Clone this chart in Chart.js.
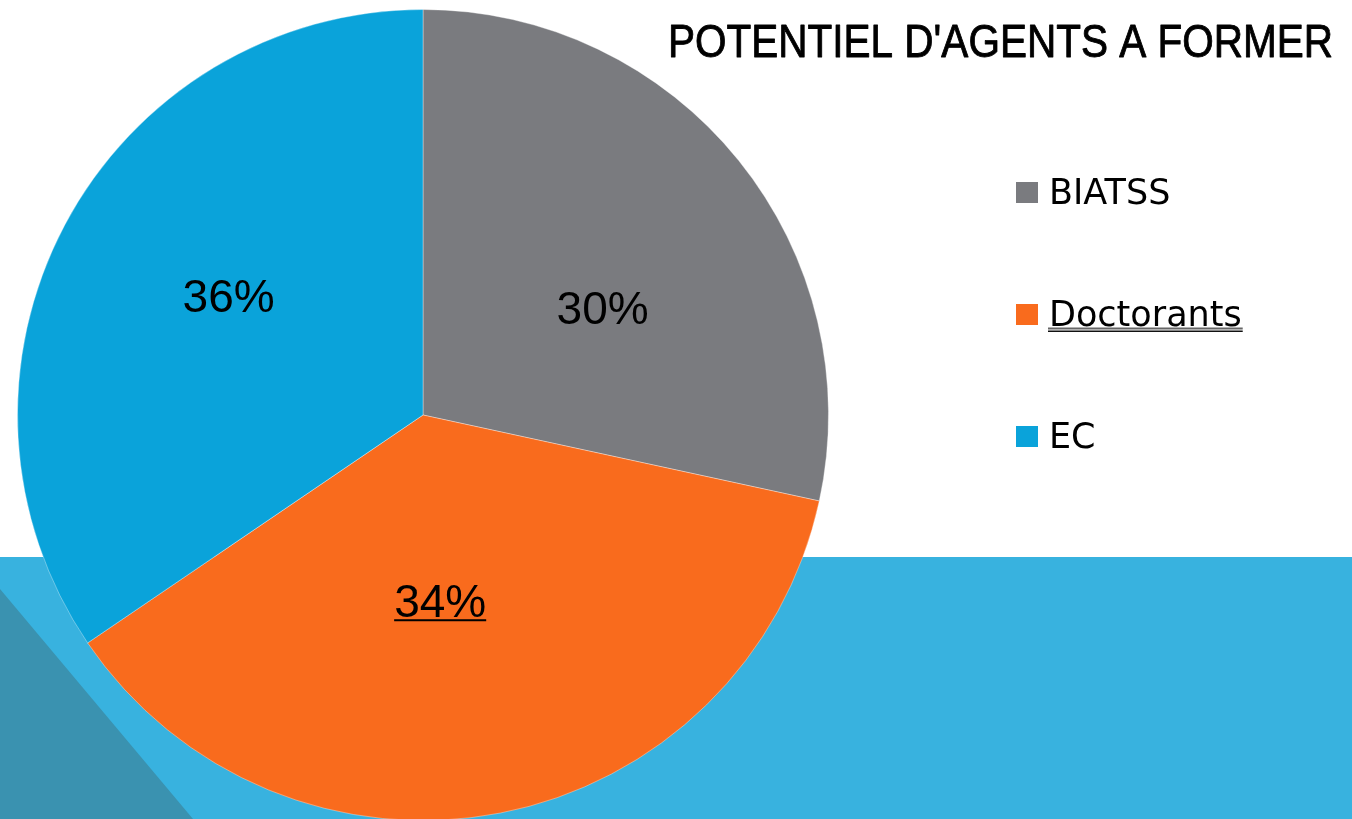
<!DOCTYPE html>
<html>
<head>
<meta charset="utf-8">
<script src="https://cdn.jsdelivr.net/npm/chart.js@4/dist/chart.umd.min.js"></script>
<style>
  html, body { margin: 0; padding: 0; overflow: hidden; background: #ffffff; }
  #wrap { position: relative; width: 1352px; height: 821px; }
</style>
</head>
<body>
<div id="wrap"><canvas id="c"></canvas></div>
<script>
// ---- data ----
const categories = ['BIATSS', 'Doctorants', 'EC'];
const shares = [28.4, 37.1, 34.5];           // slice sizes
const shareLabels = ['30%', '34%', '36%'];    // percentages printed on the slices
const sliceColors = ['#7a7b7f', '#f96b1d', '#0aa3da'];
const chartTitle = "POTENTIEL D'AGENTS A FORMER";

// ---- decoration behind the chart ----
const backdrop = {
  id: 'backdrop',
  beforeDraw(chart) {
    const { ctx, width, height } = chart;
    ctx.save();
    ctx.fillStyle = '#ffffff';
    ctx.fillRect(0, 0, width, height);
    ctx.fillStyle = '#38b2df';
    ctx.fillRect(0, 557, width, height - 557);
    ctx.fillStyle = '#3a92b0';
    ctx.beginPath();
    ctx.moveTo(0, 589);
    ctx.lineTo(193, 819);
    ctx.lineTo(0, 819);
    ctx.closePath();
    ctx.fill();
    ctx.restore();
  }
};

// ---- slice labels, title, legend ----
const overlay = {
  id: 'overlay',
  afterDraw(chart, args, opts) {
    const { ctx } = chart;
    const meta = chart.getDatasetMeta(0);
    ctx.save();

    // slice percentage labels
    ctx.font = '46px "Liberation Sans", Arimo, Arial, sans-serif';
    ctx.fillStyle = '#000000';
    ctx.textAlign = 'center';
    ctx.textBaseline = 'alphabetic';
    meta.data.forEach((arc, i) => {
      const p = arc.getProps(['x', 'y', 'startAngle', 'endAngle', 'outerRadius'], true);
      const t = opts.placement[i];
      const a = (p.startAngle + p.endAngle) / 2 + t.rot * Math.PI / 180;
      const r = p.outerRadius * t.frac;
      const x = p.x + r * Math.cos(a);
      const y = p.y + r * Math.sin(a);
      const base = y + 16.5;
      ctx.fillText(shareLabels[i], x, base);
      if (opts.underlined === i) {
        const w = ctx.measureText(shareLabels[i]).width;
        ctx.fillRect(x - w / 2, base + 2, w, 2);
      }
    });

    // title (condensed to the reference width)
    ctx.font = '47px "Liberation Sans", Arimo, Arial, sans-serif';
    ctx.textAlign = 'left';
    const tw = ctx.measureText(chartTitle).width;
    ctx.save();
    ctx.translate(668, 57);
    ctx.scale(665 / tw, 1);
    ctx.fillText(chartTitle, 0, 0);
    ctx.strokeStyle = '#000000';
    ctx.lineWidth = 0.9;
    ctx.lineJoin = 'round';
    ctx.strokeText(chartTitle, 0, 0);
    ctx.restore();

    // legend
    ctx.font = '35px "DejaVu Sans", sans-serif';
    categories.forEach((name, i) => {
      const base = 204 + i * 122;
      ctx.fillStyle = sliceColors[i];
      ctx.fillRect(1016, base - 22, 22, 21);
      ctx.fillStyle = '#000000';
      ctx.fillText(name, 1049, base);
      if (opts.underlined === i) {
        const w = ctx.measureText(name).width;
        ctx.fillStyle = '#666666';
        ctx.fillRect(1048, base + 1.5, w + 2, 2);
        ctx.fillStyle = '#111111';
        ctx.fillRect(1048, base + 4.5, w + 2, 1.5);
      }
    });
    ctx.restore();
  }
};

new Chart(document.getElementById('c'), {
  type: 'pie',
  data: {
    labels: categories,
    datasets: [{
      data: shares,
      backgroundColor: sliceColors,
      borderColor: 'rgba(255,255,255,0.35)',
      borderWidth: 1
    }]
  },
  plugins: [backdrop, overlay],
  options: {
    responsive: true,
    maintainAspectRatio: false,
    animation: false,
    layout: { padding: { left: 17, right: 523, top: 9, bottom: 0 } },
    plugins: {
      legend: { display: false },
      tooltip: { enabled: false },
      title: { display: false },
      overlay: {
        underlined: 1,
        placement: [
          { frac: 0.516, rot: 8.0 },
          { frac: 0.460, rot: 5.7 },
          { frac: 0.563, rot: 3.75 }
        ]
      }
    }
  }
});
</script>
</body>
</html>
